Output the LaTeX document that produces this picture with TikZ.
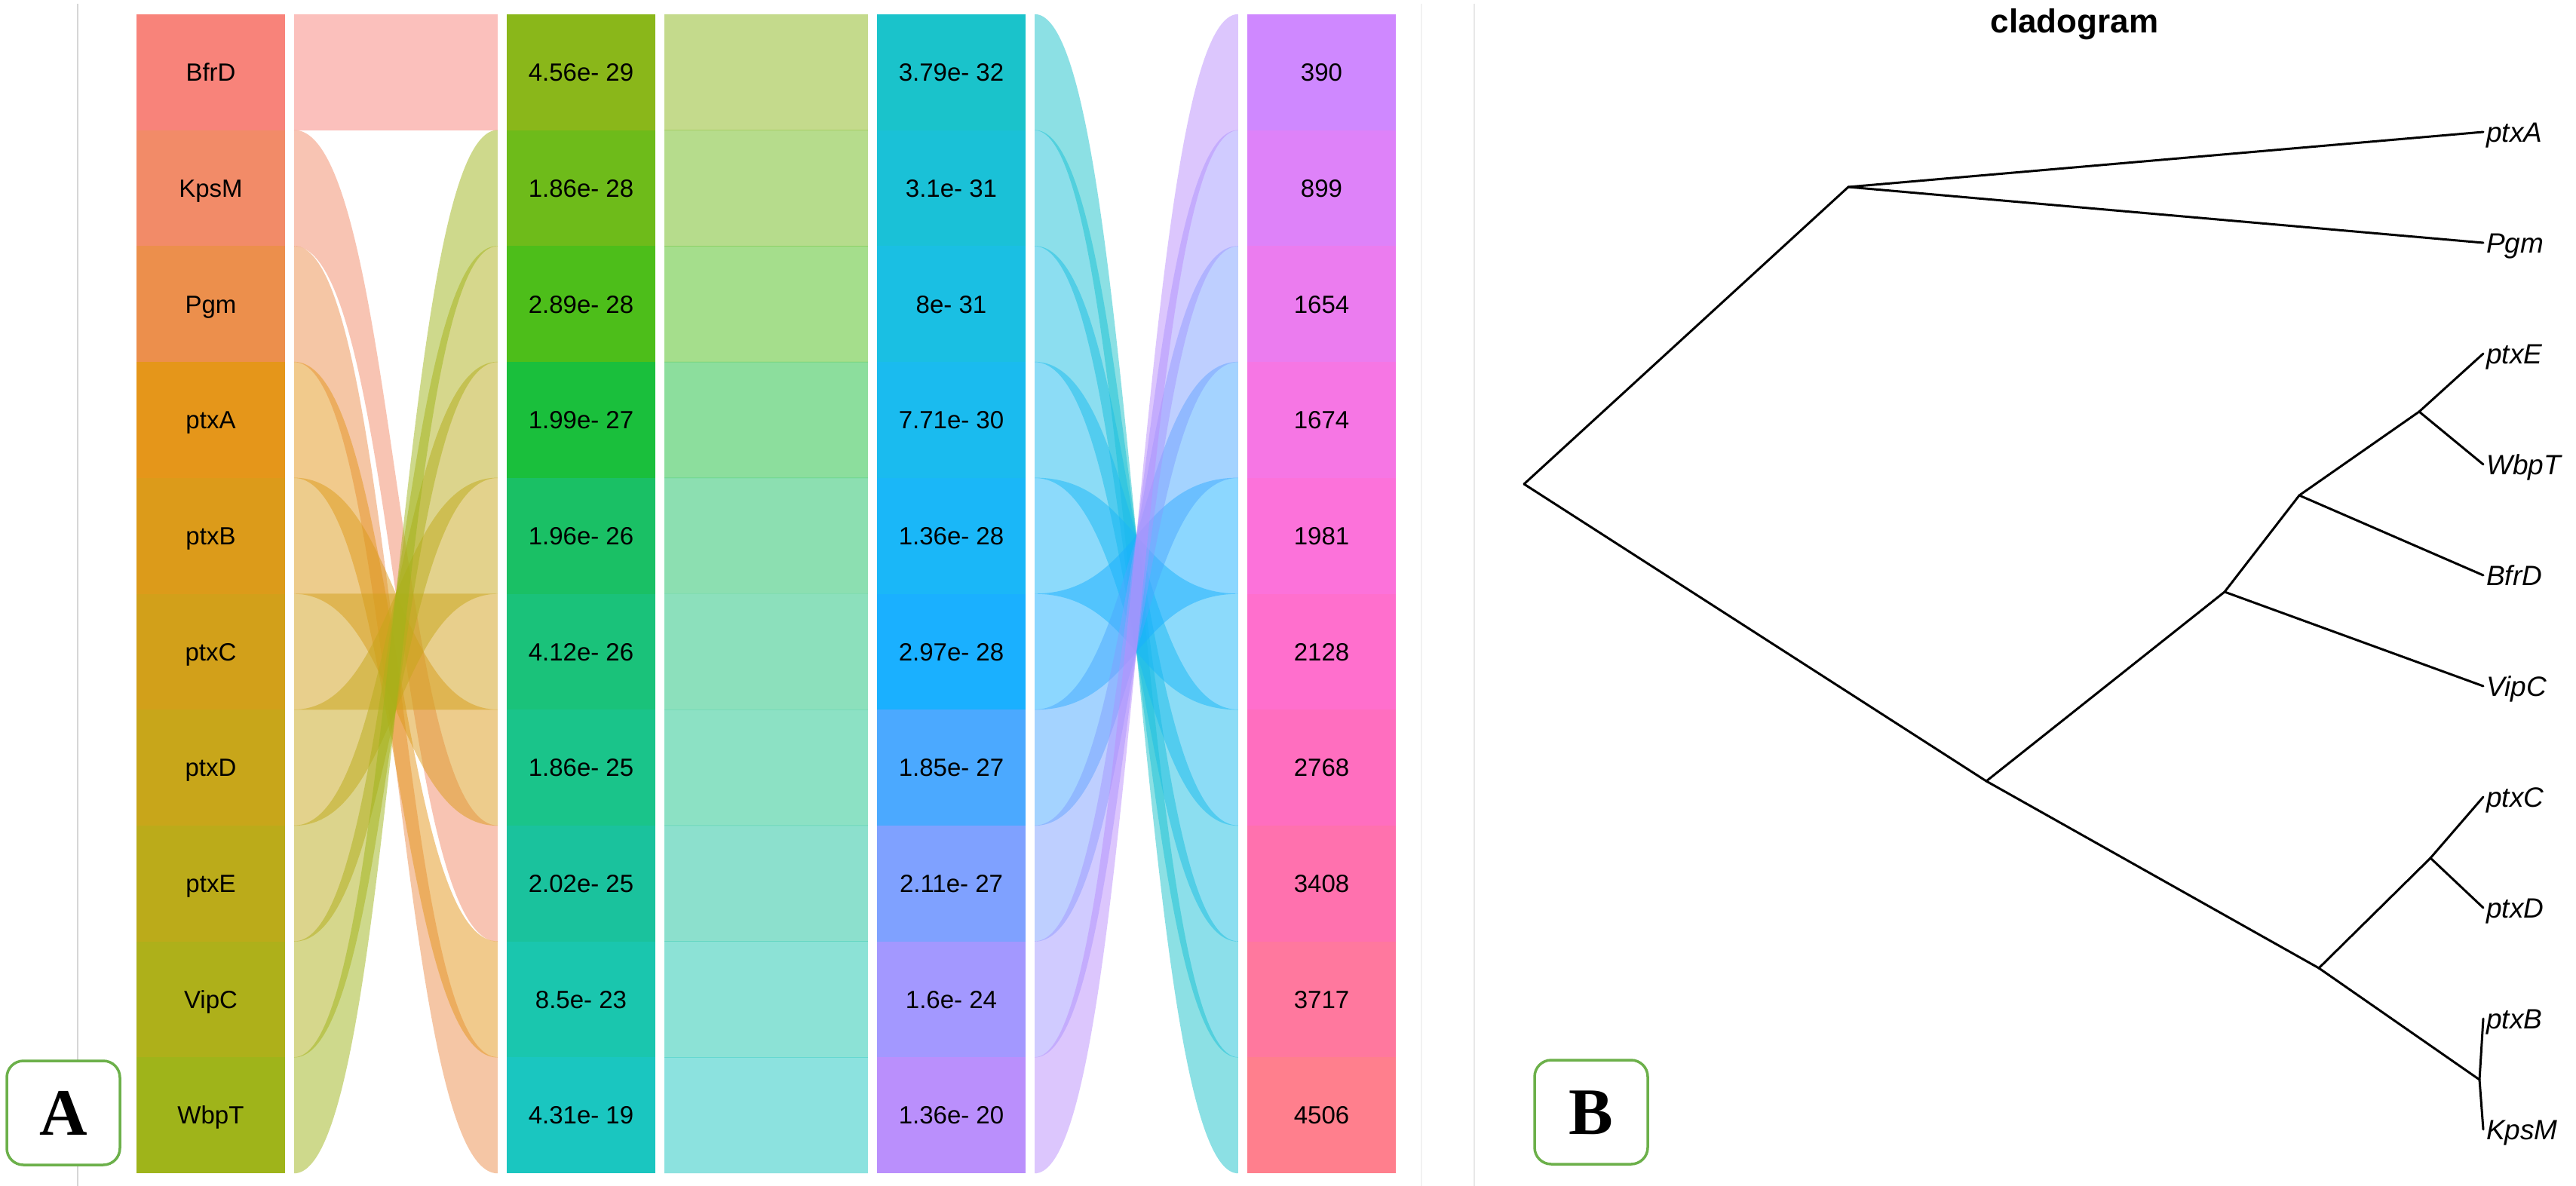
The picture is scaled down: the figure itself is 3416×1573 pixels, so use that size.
\documentclass[tikz,border=0pt]{standalone}
\usepackage{fontspec}
\newfontfamily\lsans{Liberation Sans}
\newfontfamily\lserif{Liberation Serif}
\usetikzlibrary{calc}
\definecolor{cA1}{HTML}{F8837A}\definecolor{cA2}{HTML}{F28B68}\definecolor{cA3}{HTML}{EC8F4C}\definecolor{cA4}{HTML}{E5961A}\definecolor{cA5}{HTML}{DC9B1A}
\definecolor{cA6}{HTML}{D2A01A}\definecolor{cA7}{HTML}{C8A61A}\definecolor{cA8}{HTML}{BBAB1A}\definecolor{cA9}{HTML}{AEB01A}\definecolor{cA10}{HTML}{9FB41A}
\definecolor{cB1}{HTML}{8AB71A}\definecolor{cB2}{HTML}{6EBB1A}\definecolor{cB3}{HTML}{4DBE1A}\definecolor{cB4}{HTML}{1ABF3C}\definecolor{cB5}{HTML}{1AC065}
\definecolor{cB6}{HTML}{1AC27A}\definecolor{cB7}{HTML}{1AC48A}\definecolor{cB8}{HTML}{1AC29D}\definecolor{cB9}{HTML}{1AC6AE}\definecolor{cB10}{HTML}{1AC6C0}
\definecolor{cC1}{HTML}{1AC3CB}\definecolor{cC2}{HTML}{1AC1D7}\definecolor{cC3}{HTML}{1ABFE3}\definecolor{cC4}{HTML}{1ABBEF}\definecolor{cC5}{HTML}{1AB7F8}
\definecolor{cC6}{HTML}{1AB0FF}\definecolor{cC7}{HTML}{4BA9FF}\definecolor{cC8}{HTML}{7FA1FF}\definecolor{cC9}{HTML}{A398FF}\definecolor{cC10}{HTML}{BA8FFC}
\definecolor{cD1}{HTML}{CF88FF}\definecolor{cD2}{HTML}{DE82F9}\definecolor{cD3}{HTML}{EB7CEF}\definecolor{cD4}{HTML}{F676E4}\definecolor{cD5}{HTML}{FC72DA}
\definecolor{cD6}{HTML}{FF6FCD}\definecolor{cD7}{HTML}{FF6EBF}\definecolor{cD8}{HTML}{FF71AE}\definecolor{cD9}{HTML}{FF789E}\definecolor{cD10}{HTML}{FF7F8D}
\definecolor{panelgreen}{HTML}{6CB04A}
\newcommand\myflow[3]{%
  \path ($(#1.north east)+(12,0)$) coordinate (fA)
        ($(#1.south east)+(12,0)$) coordinate (fB)
        ($(#2.north west)+(-12,0)$) coordinate (fC)
        ($(#2.south west)+(-12,0)$) coordinate (fD)
        ($(fA)!0.5!(fC)$) coordinate (fM);
  \fill[fill=#3, fill opacity=0.5] (fA) .. controls (fM |- fA) and (fM |- fC) .. (fC)
     -- (fD) .. controls (fM |- fD) and (fM |- fB) .. (fB) -- cycle;}
\begin{document}
\begin{tikzpicture}[x=1pt,y=-1pt,
  cell/.style={rectangle, minimum width=197pt, minimum height=153.7pt, inner sep=0pt,
    text height=23.6pt, text depth=0pt, font=\lsans\fontsize{33}{40}\selectfont, text=black},
  tipl/.style={anchor=base west, inner sep=0pt, font=\lsans\itshape\fontsize{37}{44}\selectfont},
  branch/.style={line width=3pt, line cap=round, line join=round, draw=black},
  panel/.style={draw=panelgreen, line width=3.5pt, rounded corners=22pt, fill=white,
    minimum width=150pt, minimum height=138pt, inner sep=0pt, text height=59pt, text depth=0pt,
    font=\lserif\bfseries\fontsize{88}{90}\selectfont},
  guide/.style={line width=1.5pt}]
\useasboundingbox (0,0) rectangle (3416,1573);
\fill[white] (0,0) rectangle (3416,1573);
% guide lines
\draw[guide, draw=black!16] (103,5) -- (103,1573);
\draw[guide, draw=black!5] (1885,5) -- (1885,1573);
\draw[guide, draw=black!9] (1955,5) -- (1955,1573);
% columns
\foreach \t [count=\i] in {BfrD,KpsM,Pgm,ptxA,ptxB,ptxC,ptxD,ptxE,VipC,WbpT}
  \node[cell, fill=cA\i] (a\i) at (279.5,{19+153.7*(\i-0.5)}) {\t};
\foreach \t [count=\i] in {4.56e- 29,1.86e- 28,2.89e- 28,1.99e- 27,1.96e- 26,4.12e- 26,1.86e- 25,2.02e- 25,8.5e- 23,4.31e- 19}
  \node[cell, fill=cB\i] (b\i) at (770.5,{19+153.7*(\i-0.5)}) {\t};
\foreach \t [count=\i] in {3.79e- 32,3.1e- 31,8e- 31,7.71e- 30,1.36e- 28,2.97e- 28,1.85e- 27,2.11e- 27,1.6e- 24,1.36e- 20}
  \node[cell, fill=cC\i] (c\i) at (1261.5,{19+153.7*(\i-0.5)}) {\t};
\foreach \t [count=\i] in {390,899,1654,1674,1981,2128,2768,3408,3717,4506}
  \node[cell, fill=cD\i] (d\i) at (1752.5,{19+153.7*(\i-0.5)}) {\t};
% flows
\foreach \s/\d in {1/1,2/8,3/10,4/9,5/7,6/6,7/5,8/4,9/3,10/2}
  {\myflow{a\s}{b\d}{cA\s}}
\foreach \s in {1,...,10}
  {\myflow{b\s}{c\s}{cB\s}}
\foreach \s [evaluate=\s as \d using {int(11-\s)}] in {1,...,10}
  {\myflow{c\s}{d\d}{cC\s}}
% cladogram
\node[anchor=base, inner sep=0pt, font=\lsans\bfseries\fontsize{44}{50}\selectfont] (title) at (2751,44) {cladogram};
\coordinate (root) at (2021,642);
\coordinate (nPA) at (2451,248);
\coordinate (n1) at (2634,1036);
\coordinate (n2) at (2950,785);
\coordinate (n3) at (3049,657);
\coordinate (n4) at (3208,546);
\coordinate (n5) at (3075,1284);
\coordinate (n6) at (3223,1138);
\coordinate (n7) at (3288,1432);
\foreach \t [count=\i] in {ptxA,Pgm,ptxE,WbpT,BfrD,VipC,ptxC,ptxD,ptxB,KpsM}{
  \coordinate (t\t) at (3293,{175+147*(\i-1)});
  \node[tipl] (l\t) at (3297,{188.3+147*(\i-1)}) {\t};}
\draw[branch] (root) -- (nPA);
\draw[branch] (root) -- (n1);
\draw[branch] (nPA) -- (tptxA);
\draw[branch] (nPA) -- (tPgm);
\draw[branch] (n1) -- (n2);
\draw[branch] (n1) -- (n5);
\draw[branch] (n2) -- (tVipC);
\draw[branch] (n2) -- (n3);
\draw[branch] (n3) -- (tBfrD);
\draw[branch] (n3) -- (n4);
\draw[branch] (n4) -- (tptxE);
\draw[branch] (n4) -- (tWbpT);
\draw[branch] (n5) -- (n6);
\draw[branch] (n5) -- (n7);
\draw[branch] (n6) -- (tptxC);
\draw[branch] (n6) -- (tptxD);
\draw[branch] (n7) -- (tptxB);
\draw[branch] (n7) -- (tKpsM);
% panel labels
\node[panel] (pA) at (84,1476) {A};
\node[panel] (pB) at (2110,1475) {B};
\end{tikzpicture}
\end{document}
